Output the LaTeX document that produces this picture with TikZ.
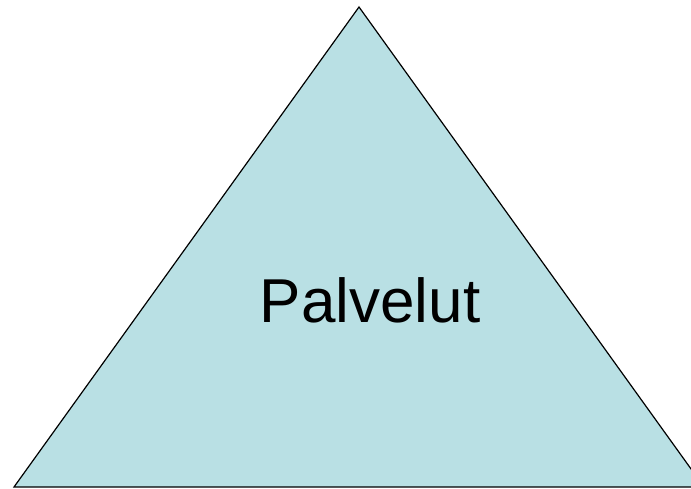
\documentclass[tikz,border=0pt]{standalone}
\usepackage{fontspec}
\setmainfont{Liberation Sans}
\definecolor{pyramidfill}{RGB}{185,224,228}
\tikzset{
  pyramid/.style={draw=black,line width=1.2pt,fill=pyramidfill,line join=miter},
  pyramidlabel/.style={font=\fontsize{62}{70}\selectfont,anchor=base}
}
\begin{document}
\begin{tikzpicture}[x=1pt,y=1pt]
  \useasboundingbox (0,0) rectangle (691,488);
  \clip (0,0) rectangle (691,488);

  \coordinate (apex)  at (359,481);
  \coordinate (left)  at (14,1);
  \coordinate (right) at (704,1);

  \draw[pyramid] (apex) -- (left) -- (right) -- cycle;

  \node[pyramidlabel] (palvelut) at (370,166) {Palvelut};

\end{tikzpicture}
\end{document}
